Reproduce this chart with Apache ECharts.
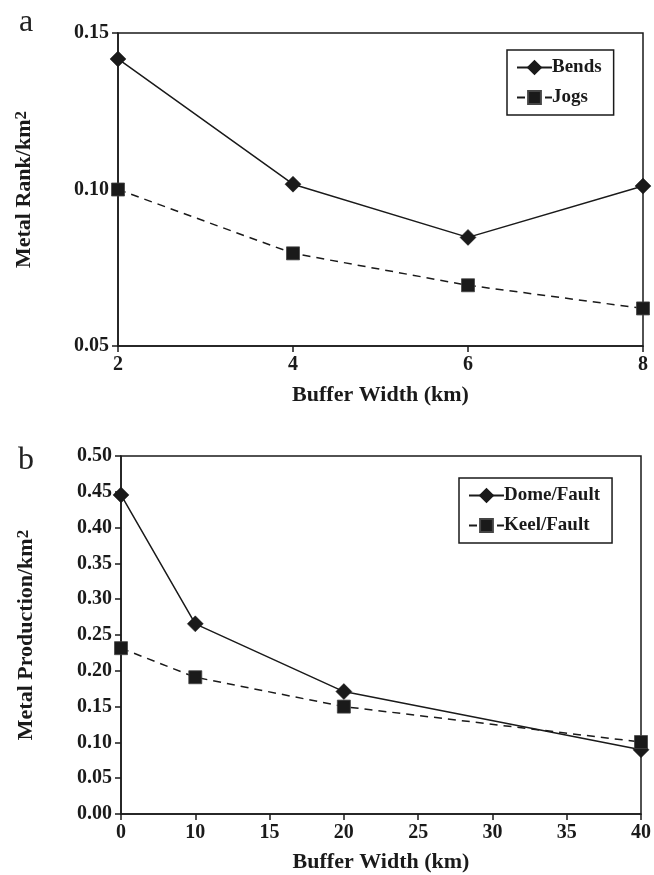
<!DOCTYPE html>
<html>
<head>
<meta charset="utf-8">
<script src="https://cdn.jsdelivr.net/npm/echarts@6/dist/echarts.min.js"></script>
<style>html,body{margin:0;padding:0;background:#fff;}#c{width:654px;height:875px;}</style>
</head>
<body>
<div id="c"></div>
<script>
// Panel a data
const aX = [2, 4, 6, 8];
const bendsVals = [0.1417, 0.1017, 0.0847, 0.1011];
const jogsVals = [0.1000, 0.0796, 0.0694, 0.0620];
const aYTicks = [0.05, 0.10, 0.15];

// Panel b data
const bXLabels = ['0', '10', '15', '20', '25', '30', '35', '40'];
const bX = ['0', '10', '20', '40'];
const domeVals = [0.4456, 0.2656, 0.1710, 0.0897];
const keelVals = [0.2316, 0.1910, 0.1500, 0.1005];

const FONT = '"Liberation Serif", "Times New Roman", serif';
const INK = '#1a1a1a';

const chart = echarts.init(document.getElementById('c'), null, {renderer: 'canvas'});

function pairs(xs, ys) { return xs.map((x, i) => [x, ys[i]]); }

const axisLbl = {color: INK, fontFamily: FONT, fontWeight: 'bold', fontSize: 20};
const axisLine = {show: true, lineStyle: {color: INK, width: 1.5}};
const axisTick = {show: true, inside: false, length: 6, lineStyle: {color: INK, width: 1.5}};
const nameStyle = {color: INK, fontFamily: FONT, fontWeight: 'bold', fontSize: 22};
const yNameStyle = {
  color: INK, fontFamily: FONT, fontWeight: 'bold', fontSize: 22,
  rich: {
    t: {color: INK, fontFamily: FONT, fontWeight: 'bold', fontSize: 22},
    s: {color: INK, fontFamily: FONT, fontWeight: 'bold', fontSize: 17, padding: [0, 0, 6, 0]}
  }
};

function legend(left, top, data) {
  return {
    left: left, top: top, orient: 'vertical',
    data: data,
    itemWidth: 35, itemHeight: 16, itemGap: 11,
    padding: [8, 12, 8, 9],
    borderColor: INK, borderWidth: 1.5,
    backgroundColor: '#fff',
    textStyle: {color: INK, fontFamily: FONT, fontWeight: 'bold', fontSize: 19, padding: [0, 0, 0, -5]},
    selectedMode: false
  };
}

const lineSolid = {color: INK, width: 1.5, type: 'solid'};
const lineDash = {color: INK, width: 1.5, type: [8, 6]};

chart.setOption({
  animation: false,
  backgroundColor: '#fff',
  graphic: [
    {type: 'text', left: 19, top: 7, style: {text: 'a', font: 'normal 32px ' + FONT, fill: '#222'}},
    {type: 'text', left: 18, top: 445, style: {text: 'b', font: 'normal 32px ' + FONT, fill: '#222'}}
  ],
  grid: [
    {left: 118, right: 11, top: 33, height: 313, show: true, borderColor: INK, borderWidth: 1.5, backgroundColor: 'transparent'},
    {left: 121, right: 9, top: 456, height: 358, show: true, borderColor: INK, borderWidth: 1.5, backgroundColor: 'transparent'}
  ],
  legend: [
    legend(507, 50, ['Bends', 'Jogs']),
    legend(459, 478, ['Dome/Fault', 'Keel/Fault'])
  ],
  xAxis: [
    {
      gridIndex: 0, type: 'value', min: 2, max: 8, interval: 2,
      name: 'Buffer Width (km)', nameLocation: 'middle', nameGap: 38, nameTextStyle: nameStyle,
      axisLine: axisLine, axisTick: axisTick, splitLine: {show: false},
      axisLabel: Object.assign({margin: 9}, axisLbl)
    },
    {
      gridIndex: 1, type: 'category', data: bXLabels, boundaryGap: false,
      name: 'Buffer Width (km)', nameLocation: 'middle', nameGap: 37, nameTextStyle: nameStyle,
      axisLine: axisLine, axisTick: axisTick, splitLine: {show: false},
      axisLabel: Object.assign({margin: 9, interval: 0}, axisLbl)
    }
  ],
  yAxis: [
    {
      gridIndex: 0, type: 'value', min: aYTicks[0], max: aYTicks[aYTicks.length - 1], interval: 0.05,
      name: '{t|Metal Rank/km}{s|2}', nameLocation: 'middle', nameRotate: 90, nameGap: 82, nameTextStyle: yNameStyle,
      axisLine: axisLine, axisTick: axisTick, splitLine: {show: false},
      axisLabel: Object.assign({margin: 9, formatter: v => v.toFixed(2)}, axisLbl)
    },
    {
      gridIndex: 1, type: 'value', min: 0, max: 0.5, interval: 0.05,
      name: '{t|Metal Production/km}{s|2}', nameLocation: 'middle', nameRotate: 90, nameGap: 83, nameTextStyle: yNameStyle,
      axisLine: axisLine, axisTick: axisTick, splitLine: {show: false},
      axisLabel: Object.assign({margin: 9, formatter: v => v.toFixed(2)}, axisLbl)
    }
  ],
  series: [
    {
      name: 'Bends', type: 'line', xAxisIndex: 0, yAxisIndex: 0,
      data: pairs(aX, bendsVals), symbol: 'diamond', symbolSize: 16,
      lineStyle: lineSolid, itemStyle: {color: INK, borderColor: INK, borderWidth: 0.5}, z: 3
    },
    {
      name: 'Jogs', type: 'line', xAxisIndex: 0, yAxisIndex: 0,
      data: pairs(aX, jogsVals), symbol: 'rect', symbolSize: 13,
      lineStyle: lineDash, itemStyle: {color: INK, borderColor: '#444', borderWidth: 0.8}, z: 3
    },
    {
      name: 'Dome/Fault', type: 'line', xAxisIndex: 1, yAxisIndex: 1,
      data: pairs(bX, domeVals), symbol: 'diamond', symbolSize: 16,
      lineStyle: lineSolid, itemStyle: {color: INK, borderColor: INK, borderWidth: 0.5}, z: 3
    },
    {
      name: 'Keel/Fault', type: 'line', xAxisIndex: 1, yAxisIndex: 1,
      data: pairs(bX, keelVals), symbol: 'rect', symbolSize: 13,
      lineStyle: lineDash, itemStyle: {color: INK, borderColor: '#444', borderWidth: 0.8}, z: 3
    }
  ]
});
</script>
</body>
</html>
